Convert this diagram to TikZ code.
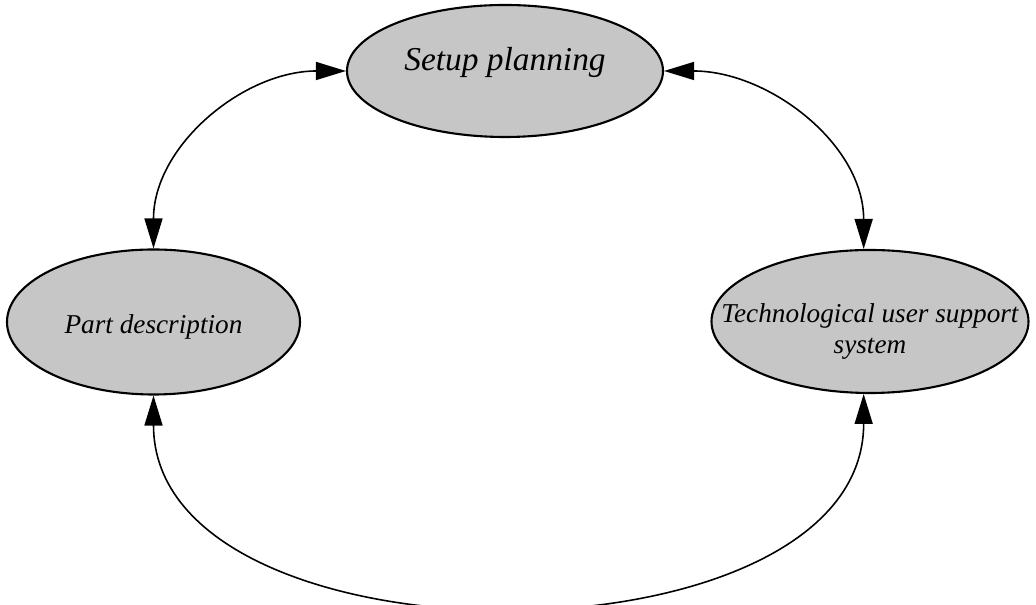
\documentclass[tikz,border=0pt]{standalone}
\usepackage{fontspec}
\setmainfont{Liberation Serif}
\usepackage{tikz}
\usetikzlibrary{shapes.geometric}
\usetikzlibrary{arrows.meta}

\begin{document}
\begin{tikzpicture}[
  blob/.style={ellipse, draw, line width=1.2pt, fill=gray!45, inner sep=0pt},
  link/.style={line width=0.9pt, {Triangle[length=6mm,width=3.6mm]}-{Triangle[length=6mm,width=3.6mm]}}]
  \useasboundingbox (0,0) rectangle (20.72,12.1);

  % the three modules
  \node[blob, minimum width=6.32cm, minimum height=2.64cm,
    label={[font=\itshape\fontsize{19}{22}\selectfont, yshift=0.18cm]center:Setup planning}]
    (setup) at (10.1,10.68) {};
  \node[blob, minimum width=5.86cm, minimum height=2.9cm,
    label={[font=\itshape\fontsize{15.5}{18}\selectfont, yshift=-0.1cm]center:Part description}]
    (part) at (3.07,5.66) {};
  \node[blob, minimum width=6.34cm, minimum height=2.86cm,
    label={[align=center, font=\itshape\fontsize{15.5}{18}\selectfont, yshift=-0.2cm]center:Technological user support\\system}]
    (tech) at (17.4,5.67) {};

  % links between them
  \draw[link] (part.north) to[out=90, in=180] (setup.west);
  \draw[link] (setup.east) to[out=0, in=90] (tech.95);
  \draw[link] (part.south) to[out=-90, in=-90, looseness=1] (tech.265);
\end{tikzpicture}
\end{document}
